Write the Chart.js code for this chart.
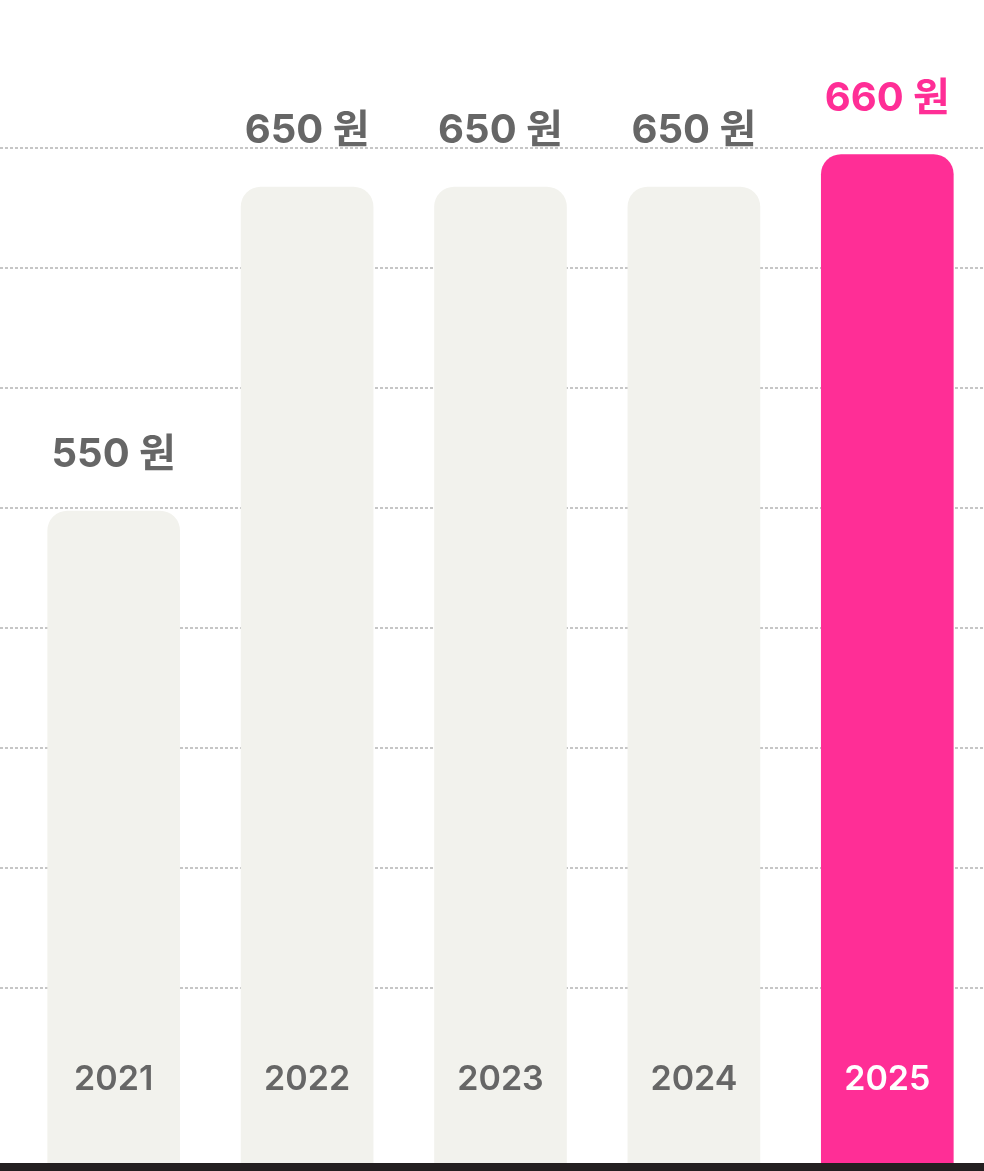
<!DOCTYPE html>
<html lang="ko">
<head>
    <meta charset="UTF-8">
    <title>연도별 가격</title>
    <script src="https://cdn.jsdelivr.net/npm/chart.js"></script>
    <style>
        html, body { margin: 0; padding: 0; background: #fff; }
        #wrap { width: 984px; height: 1171px; }
    </style>
</head>
<body>
    <div id="wrap"><canvas id="priceChart"></canvas></div>

    <script>
        // data
        const years = ['2021', '2022', '2023', '2024', '2025'];
        const prices = [550, 650, 650, 650, 660];
        const unit = '원';
        const highlightIndex = 4;

        const grayBar = '#f2f2ed';
        const pink = '#ff2e96';
        const labelGray = '#666666';
        const fontStack = "Inter, 'Noto Sans CJK KR', sans-serif";

        // draws the dotted guide lines over the full width, behind the bars
        const gridPlugin = {
            id: 'dottedGrid',
            beforeDatasetsDraw(chart) {
                const ctx = chart.ctx;
                const g = chart.scales.yg;
                ctx.save();
                ctx.strokeStyle = '#c6c6c6';
                ctx.lineWidth = 2;
                ctx.setLineDash([3, 2]);
                for (let i = 0; i <= 7; i++) {
                    const y = Math.round(g.getPixelForValue(i));
                    ctx.beginPath();
                    ctx.moveTo(0, y);
                    ctx.lineTo(chart.width, y);
                    ctx.stroke();
                }
                ctx.restore();
            }
        };

        // value labels above bars, year labels inside bars, baseline
        const labelPlugin = {
            id: 'barLabels',
            afterDatasetsDraw(chart) {
                const ctx = chart.ctx;
                const area = chart.chartArea;
                const meta = chart.getDatasetMeta(0);
                ctx.save();
                ctx.textAlign = 'center';
                meta.data.forEach((bar, i) => {
                    const hi = i === highlightIndex;
                    ctx.fillStyle = hi ? pink : labelGray;
                    ctx.font = '700 40px ' + fontStack;
                    ctx.textBaseline = 'alphabetic';
                    ctx.fillText(prices[i] + ' ' + unit, bar.x, bar.y - 44);

                    ctx.fillStyle = hi ? '#ffffff' : labelGray;
                    ctx.font = '600 34px ' + fontStack;
                    ctx.textBaseline = 'middle';
                    ctx.fillText(years[i], bar.x, area.bottom - 83);
                });
                // bottom rule
                ctx.fillStyle = '#231f20';
                ctx.fillRect(0, area.bottom, chart.width, 8);
                ctx.restore();
            }
        };

        const ctx = document.getElementById('priceChart').getContext('2d');
        const priceChart = new Chart(ctx, {
            type: 'bar',
            data: {
                labels: years,
                datasets: [{
                    data: prices,
                    backgroundColor: prices.map((v, i) => i === highlightIndex ? pink : grayBar),
                    borderRadius: { topLeft: 20, topRight: 20, bottomLeft: 0, bottomRight: 0 },
                    borderSkipped: 'bottom',
                    barThickness: 132
                }]
            },
            options: {
                responsive: true,
                maintainAspectRatio: false,
                animation: false,
                layout: { padding: { left: 17, right: 0, top: 0, bottom: 8 } },
                plugins: {
                    legend: { display: false },
                    tooltip: { enabled: false }
                },
                scales: {
                    x: { display: false },
                    y: { display: false, min: 348.8, max: 707.7 },
                    yg: { display: false, min: -1.458, max: 8.234 }
                }
            },
            plugins: [gridPlugin, labelPlugin]
        });
    </script>
</body>
</html>
